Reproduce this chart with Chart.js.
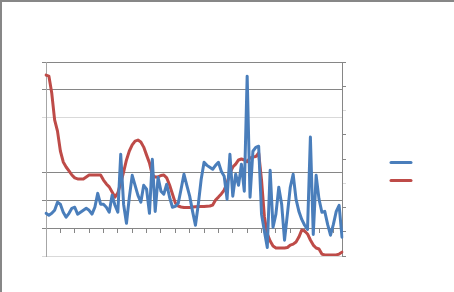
<!DOCTYPE html>
<html>
<head>
<meta charset="utf-8">
<script src="https://cdn.jsdelivr.net/npm/chart.js@4/dist/chart.umd.min.js"></script>
<style>
html,body{margin:0;padding:0;background:#fff;}
canvas{display:block;}
</style>
</head>
<body>
<canvas id="c" width="454" height="292"></canvas>
<script>
// Categories (no labels shown on the chart)
const categories = Array.from({length: 104}, (_, i) => String(i + 1));

// Series A (blue, left axis)
const seriesA = [
  5.4, 4.7, 5.4, 6.5, 9.4, 8.7, 5.8, 4.0, 5.4, 7.2,
  7.6, 5.1, 5.8, 6.5, 7.2, 6.5, 5.1, 7.6, 12.6, 8.7,
  8.7, 7.6, 5.8, 11.9, 8.3, 5.8, 26.7, 8.7, 1.8, 11.2,
  19.1, 15.5, 11.9, 9.4, 15.5, 14.1, 5.4, 24.9, 6.1, 18.4,
  13.4, 12.3, 15.9, 11.2, 7.6, 7.9, 9.0, 14.1, 19.5, 15.5,
  11.6, 6.1, 1.1, 8.7, 17.7, 23.8, 22.7, 22.0, 21.3, 22.7,
  23.8, 20.6, 18.8, 10.5, 26.7, 11.6, 19.5, 15.5, 23.1, 13.4,
  54.9, 11.2, 27.8, 29.2, 29.6, 5.1, -1.1, -6.9, 20.9, 0.4,
  5.1, 14.8, 8.7, -4.3, 5.1, 14.8, 19.5, 10.5, 6.1, 3.2,
  1.1, -0.4, 32.9, -2.2, 19.1, 10.5, 5.8, 6.1, 1.4, -2.5,
  1.4, 6.1, 8.3, -3.2
];

// Series B (red, right axis)
const seriesB = [
  74.6, 74.2, 67.2, 56.1, 51.5, 43.3, 38.8, 36.7, 35.1, 33.4,
  32.2, 31.8, 31.8, 31.8, 32.6, 33.4, 33.4, 33.4, 33.4, 33.4,
  31.3, 29.7, 28.5, 26.4, 24.3, 26.0, 30.1, 34.6, 39.6, 43.3,
  45.8, 47.4, 47.8, 47.0, 44.9, 41.6, 38.4, 33.4, 32.6, 32.6,
  33.2, 33.4, 32.2, 29.3, 25.6, 21.9, 20.6, 20.2, 20.0, 20.0,
  20.0, 20.2, 20.3, 20.4, 20.4, 20.4, 20.5, 20.6, 21.0, 23.1,
  24.3, 25.6, 27.2, 30.1, 34.2, 36.7, 37.9, 39.6, 40.0, 39.6,
  38.9, 40.4, 40.8, 41.0, 42.5, 31.3, 16.1, 9.1, 6.2, 4.1,
  3.3, 3.3, 3.3, 3.3, 3.5, 4.5, 4.9, 5.8, 7.8, 10.7,
  10.3, 9.1, 6.6, 4.5, 3.3, 2.9, 0.8, 0.4, 0.4, 0.4,
  0.4, 0.4, 0.8, 1.6
];

// Axis tick values
const leftTicks = [-10, 0, 10, 20, 30, 40, 50, 60];
const rightTicks = [0, 10, 20, 30, 40, 50, 60, 70, 80];

const DARK = '#868686';
const LIGHT = '#d9d9d9';
const NONE = 'rgba(0,0,0,0)';
const BLUE = '#4a7ebb';
const RED = '#be4b48';

const leftGridColor = {'-10': LIGHT, '0': DARK, '10': DARK, '20': DARK, '30': NONE, '40': LIGHT, '50': DARK, '60': DARK};
const rightTickColor = {'0': DARK, '10': DARK, '20': DARK, '30': LIGHT, '40': DARK, '50': DARK, '60': LIGHT, '70': DARK, '80': DARK};

const frame = {
  id: 'frame',
  beforeDraw(chart) {
    const ctx = chart.ctx;
    ctx.save();
    ctx.fillStyle = '#fff';
    ctx.fillRect(0, 0, chart.width, chart.height);
    ctx.fillStyle = '#878787';
    ctx.fillRect(0, 0, chart.width, 2);
    ctx.fillRect(0, 0, 2, chart.height);
    ctx.restore();
  },
  afterDraw(chart) {
    const ctx = chart.ctx;
    ctx.save();
    ctx.lineWidth = 3;
    ctx.lineCap = 'round';
    [[BLUE, 162.5], [RED, 180.5]].forEach(([c, y]) => {
      ctx.strokeStyle = c;
      ctx.beginPath();
      ctx.moveTo(391, y);
      ctx.lineTo(411, y);
      ctx.stroke();
    });
    ctx.restore();
  }
};

new Chart(document.getElementById('c'), {
  type: 'line',
  data: {
    labels: categories,
    datasets: [
      {data: seriesA, yAxisID: 'y', borderColor: BLUE, borderWidth: 3, pointRadius: 0, tension: 0,
       borderJoinStyle: 'round', borderCapStyle: 'round', fill: false},
      {data: seriesB, yAxisID: 'y1', borderColor: RED, borderWidth: 3, pointRadius: 0, tension: 0,
       borderJoinStyle: 'round', borderCapStyle: 'round', fill: false}
    ]
  },
  options: {
    responsive: false,
    animation: false,
    events: [],
    layout: {padding: {left: 42, right: 108, top: 62, bottom: 36}},
    plugins: {legend: {display: false}, tooltip: {enabled: false}, title: {display: false}},
    scales: {
      x: {
        position: {y: 0},
        offset: false,
        ticks: {display: false},
        grid: {
          drawOnChartArea: false, drawTicks: true, tickLength: 4,
          tickColor: (ctx) => (ctx.index % 5 === 0 ? DARK : NONE)
        },
        border: {color: DARK, width: 1}
      },
      y: {
        position: 'left',
        min: leftTicks[0], max: leftTicks[leftTicks.length - 1],
        afterBuildTicks: (s) => { s.ticks = leftTicks.map(v => ({value: v})); },
        ticks: {display: false},
        grid: {
          color: (ctx) => leftGridColor[String(ctx.tick.value)] || NONE,
          tickColor: (ctx) => leftGridColor[String(ctx.tick.value)] || NONE,
          tickLength: 4, lineWidth: 1
        },
        border: {color: '#a6a6a6', width: 1}
      },
      y1: {
        position: 'right',
        min: rightTicks[0], max: rightTicks[rightTicks.length - 1],
        afterBuildTicks: (s) => { s.ticks = rightTicks.map(v => ({value: v})); },
        ticks: {display: false},
        grid: {
          drawOnChartArea: false, tickLength: 4,
          tickColor: (ctx) => rightTickColor[String(ctx.tick.value)] || NONE
        },
        border: {color: DARK, width: 1}
      }
    }
  },
  plugins: [frame]
});
</script>
</body>
</html>
